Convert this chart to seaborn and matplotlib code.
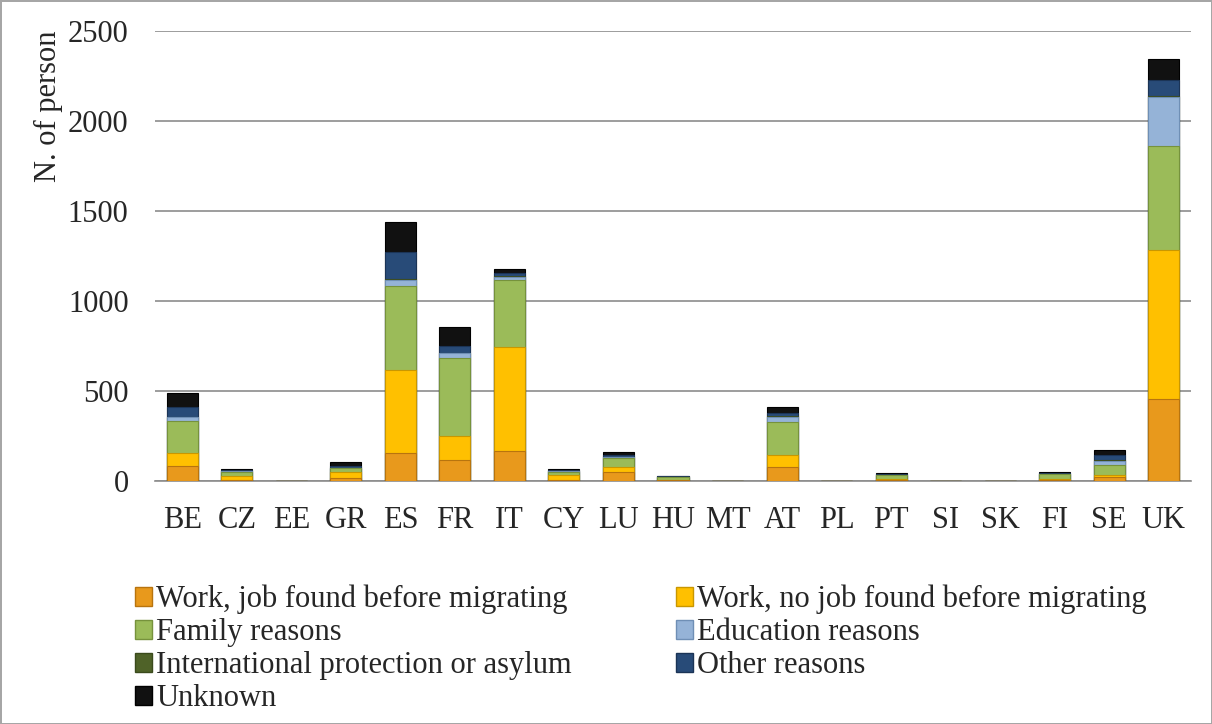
import matplotlib.pyplot as plt
import numpy as np
import seaborn as sns
from matplotlib.patches import Patch

countries = ['BE', 'CZ', 'EE', 'GR', 'ES', 'FR', 'IT', 'CY', 'LU', 'HU',
             'MT', 'AT', 'PL', 'PT', 'SI', 'SK', 'FI', 'SE', 'UK']

work_job = [85, 5, 0, 15, 157, 117, 167, 5, 52, 3, 0, 76, 0, 3, 0, 0, 3, 20, 454]
work_nojob = [72, 25, 0, 37, 460, 135, 579, 28, 24, 5, 0, 68, 0, 7, 0, 0, 7, 15, 829]
family = [178, 22, 0, 18, 466, 429, 371, 19, 50, 15, 0, 185, 0, 23, 0, 0, 28, 55, 580]
education = [20, 2, 0, 0, 34, 28, 18, 2, 5, 0, 0, 28, 0, 0, 0, 0, 0, 22, 270]
protection = [3, 0, 0, 2, 5, 3, 2, 0, 2, 0, 0, 3, 0, 2, 0, 0, 2, 3, 5]
other = [55, 8, 0, 10, 152, 37, 20, 8, 12, 3, 0, 19, 0, 5, 0, 0, 5, 27, 90]
unknown = [75, 5, 0, 25, 163, 106, 23, 5, 15, 2, 0, 33, 0, 5, 0, 0, 3, 30, 115]

labels = ['Work, job found before migrating', 'Work, no job found before migrating',
          'Family reasons', 'Education reasons', 'International protection or asylum',
          'Other reasons', 'Unknown']
colors = ['#E8991C', '#FFC000', '#9BBB59', '#95B3D7', '#4F6228', '#284B78', '#111111']
edges = ['#B8740E', '#C99700', '#76923C', '#6F8FB5', '#3A4A1C', '#1B3456', '#000000']

series = [work_job, work_nojob, family, education, protection, other, unknown]

sns.set_style('white')
plt.rcParams['font.family'] = ['Liberation Serif', 'DejaVu Serif']

fig = plt.figure(figsize=(12.12, 7.24), dpi=100, edgecolor='#a6a6a6', linewidth=2)
ax = fig.add_axes([155 / 1212, 1 - 481 / 724, 1036 / 1212, 450 / 724])

cum = np.cumsum(np.array(series), axis=0)
# draw from the top layer down so each lower stack covers the one above
for i in range(len(series) - 1, -1, -1):
    sns.barplot(x=countries, y=cum[i], color=colors[i], saturation=1, width=0.57,
                edgecolor=edges[i], linewidth=0.8, ax=ax, zorder=3)

ax.set_xlim(-0.5, len(countries) - 0.5)
ax.set_ylim(0, 2500)
ax.set_yticks([0, 500, 1000, 1500, 2000, 2500])
ax.yaxis.grid(True, color='#8c8c8c', linewidth=1.2)
ax.set_axisbelow(True)
for s in ['left', 'right', 'top']:
    ax.spines[s].set_visible(False)
ax.spines['bottom'].set_color('#8c8c8c')
ax.spines['bottom'].set_linewidth(1.2)
ax.tick_params(axis='both', length=0, labelsize=22)
ax.tick_params(axis='y', pad=19)
ax.tick_params(axis='x', pad=18)
ax.set_ylabel('N. of person', fontsize=22)
ax.yaxis.set_label_coords(-0.089, 0.833)
ax.set_xlabel('')

order = [0, 2, 4, 6, 1, 3, 5]
handles = [Patch(facecolor=colors[k], edgecolor=edges[k], label=labels[k]) for k in order]
fig.legend(handles=handles, ncol=2, loc='upper left', bbox_to_anchor=(135 / 1212, 1 - 585 / 724),
           frameon=False, fontsize=22, handlelength=0.55, handleheight=0.55,
           handletextpad=0.15, labelspacing=0.13, columnspacing=3.4, borderpad=0,
           borderaxespad=0)

plt.savefig('out.png', dpi=100)
